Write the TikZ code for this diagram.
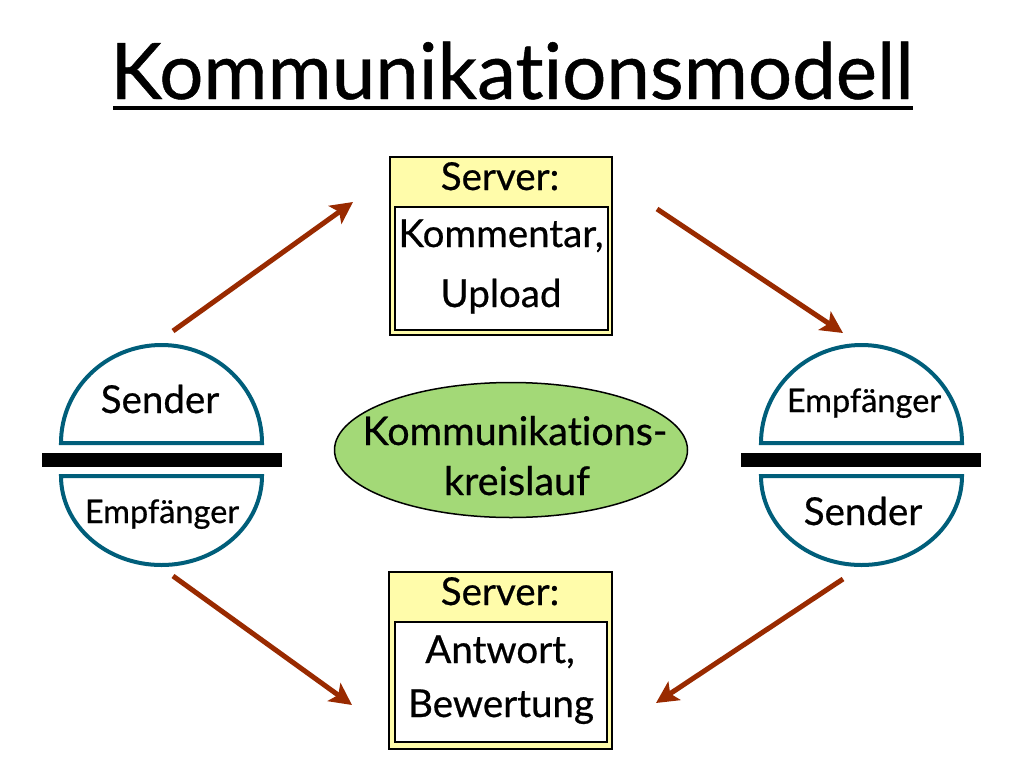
\documentclass[tikz,border=0pt]{standalone}
\usepackage{fontspec}
\setmainfont{Lato}[Ligatures=NoCommon, FakeBold=0.6]
\usetikzlibrary{arrows.meta,shapes.geometric}
\definecolor{discblue}{RGB}{0,94,122}
\definecolor{arrowred}{RGB}{153,42,0}
\definecolor{boxyellow}{RGB}{255,252,170}
\definecolor{ellgreen}{RGB}{163,217,119}
\tikzset{
  disc/.style={draw=discblue, line width=4pt, fill=white},
  barstyle/.style={fill=black},
  flow/.style={draw=arrowred, line width=5pt, -{Stealth[length=22pt,width=22pt,inset=5pt]}},
  outerbox/.style={draw=black, line width=2pt, fill=boxyellow, inner sep=0pt},
  innerbox/.style={draw=black, line width=2pt, fill=white, inner sep=0pt},
  lbl/.style={anchor=base, inner sep=0pt, font=\fontsize{38.5}{42}\selectfont},
  ellbl/.style={anchor=base, inner sep=0pt, font=\fontsize{39.5}{42}\selectfont},
  slbl/.style={anchor=base, inner sep=0pt, font=\fontsize{32.5}{36}\selectfont},
}
\begin{document}
\begin{tikzpicture}[x=1pt,y=-1pt]
\useasboundingbox[fill=white] (0,0) rectangle (1024,768);
% title
\node[anchor=base, inner sep=0pt, font=\fontsize{78}{90}\selectfont] (title) at (512,99) {Kommunikationsmodell};
\coordinate (ulA) at (113,108);
\coordinate (ulB) at (913,108);
\draw[line width=4pt] (ulA) -- (ulB);
% server boxes
\node[outerbox, minimum width=222pt, minimum height=178pt] (srvtop) at (501,246) {};
\node[innerbox, minimum width=213pt, minimum height=123pt] (srvtopin) at (501.5,268.5) {};
\node[lbl] (srvtoplbl) at (500,190) {Server:};
\node[lbl] (komm) at (501,247) {Kommentar,};
\node[lbl] (upl) at (501,307) {Upload};
\node[outerbox, minimum width=223pt, minimum height=177pt] (srvbot) at (500.5,660.5) {};
\node[innerbox, minimum width=212pt, minimum height=120pt] (srvbotin) at (501,682) {};
\node[lbl] (srvbotlbl) at (500,605) {Server:};
\node[lbl] (antw) at (500,663) {Antwort,};
\node[lbl] (bew) at (501,717) {Bewertung};
% ellipse
\node[ellipse, draw=black, line width=1.5pt, fill=ellgreen, minimum width=353pt, minimum height=135pt, inner sep=0pt] (kreis) at (511,450) {};
\node[ellbl] (kreis1) at (515,445) {Kommunikations-};
\node[ellbl] (kreis2) at (517,495) {kreislauf};
% left discs
\path[disc] (61,443) .. controls (61,388.9) and (106,345) .. (161.5,345) .. controls (217,345) and (262,388.9) .. (262,443) -- cycle;
\path[disc] (61,476) .. controls (61,525.2) and (106,565) .. (161.5,565) .. controls (217,565) and (262,525.2) .. (262,476) -- cycle;
\fill[barstyle] (42,453) rectangle (282,467);
\node[lbl] (lsend) at (160,413) {Sender};
\node[slbl] (lemp) at (162,523) {Empfänger};
% right discs
\path[disc] (761,443) .. controls (761,388.9) and (806,345) .. (861.5,345) .. controls (917,345) and (962,388.9) .. (962,443) -- cycle;
\path[disc] (761,476) .. controls (761,525.2) and (806,565) .. (861.5,565) .. controls (917,565) and (962,525.2) .. (962,476) -- cycle;
\fill[barstyle] (741,453) rectangle (981,467);
\node[slbl] (remp) at (864,412) {Empfänger};
\node[lbl] (rsend) at (863,525) {Sender};
% arrows
\coordinate (a1s) at (173,331);
\coordinate (a1e) at (353,202);
\coordinate (a2s) at (657,209);
\coordinate (a2e) at (843,333);
\coordinate (a3s) at (173,576);
\coordinate (a3e) at (352,705);
\coordinate (a4s) at (843,579);
\coordinate (a4e) at (656,703);
\draw[flow] (a1s) -- (a1e);
\draw[flow] (a2s) -- (a2e);
\draw[flow] (a3s) -- (a3e);
\draw[flow] (a4s) -- (a4e);
\end{tikzpicture}
\end{document}
